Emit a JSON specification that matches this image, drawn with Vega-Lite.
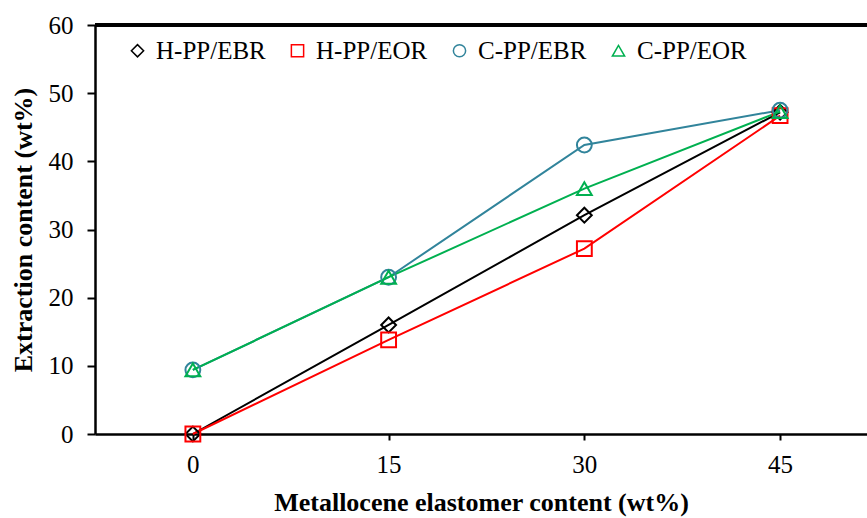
{
  "$schema": "https://vega.github.io/schema/vega-lite/v6.json",
  "width": 772,
  "height": 409,
  "autosize": {"type": "none"},
  "padding": {"left": 95, "top": 25, "right": 0, "bottom": 84},
  "background": "white",
  "config": {
    "view": {"stroke": null},
    "font": "Liberation Serif",
    "axis": {
      "domainColor": "black",
      "domainWidth": 2.5,
      "tickColor": "black",
      "tickWidth": 2,
      "labelColor": "black",
      "titleColor": "black",
      "labelFont": "Liberation Serif",
      "titleFont": "Liberation Serif",
      "labelFontSize": 25,
      "titleFontSize": 26,
      "titleFontWeight": "bold",
      "grid": false
    }
  },
  "data": {
    "values": [
      {"elastomer": 0, "extraction": 0.0, "series": "H-PP/EBR"},
      {"elastomer": 15, "extraction": 16.0, "series": "H-PP/EBR"},
      {"elastomer": 30, "extraction": 32.1, "series": "H-PP/EBR"},
      {"elastomer": 45, "extraction": 47.2, "series": "H-PP/EBR"},
      {"elastomer": 0, "extraction": 0.0, "series": "H-PP/EOR"},
      {"elastomer": 15, "extraction": 13.8, "series": "H-PP/EOR"},
      {"elastomer": 30, "extraction": 27.2, "series": "H-PP/EOR"},
      {"elastomer": 45, "extraction": 46.7, "series": "H-PP/EOR"},
      {"elastomer": 0, "extraction": 9.4, "series": "C-PP/EBR"},
      {"elastomer": 15, "extraction": 23.0, "series": "C-PP/EBR"},
      {"elastomer": 30, "extraction": 42.4, "series": "C-PP/EBR"},
      {"elastomer": 45, "extraction": 47.5, "series": "C-PP/EBR"},
      {"elastomer": 0, "extraction": 9.4, "series": "C-PP/EOR"},
      {"elastomer": 15, "extraction": 23.0, "series": "C-PP/EOR"},
      {"elastomer": 30, "extraction": 36.0, "series": "C-PP/EOR"},
      {"elastomer": 45, "extraction": 47.3, "series": "C-PP/EOR"}
    ]
  },
  "encoding": {
    "x": {
      "field": "elastomer",
      "type": "quantitative",
      "scale": {"domain": [-7.5, 51.66], "nice": false, "zero": false},
      "axis": {
        "values": [0, 15, 30, 45],
        "title": "Metallocene elastomer content (wt%)",
        "tickSize": 6,
        "labelPadding": 12,
        "titlePadding": 12
      }
    },
    "y": {
      "field": "extraction",
      "type": "quantitative",
      "scale": {"domain": [0, 60], "nice": false},
      "axis": {
        "values": [0, 10, 20, 30, 40, 50, 60],
        "title": "Extraction content (wt%)",
        "tickSize": 8,
        "labelPadding": 14,
        "titlePadding": 12
      }
    },
    "color": {
      "field": "series",
      "type": "nominal",
      "scale": {
        "domain": ["H-PP/EBR", "H-PP/EOR", "C-PP/EBR", "C-PP/EOR"],
        "range": ["#000000", "#ff0000", "#31849b", "#00b050"]
      },
      "legend": {
        "orient": "none",
        "legendX": 30,
        "legendY": 13,
        "direction": "horizontal",
        "columns": 4,
        "columnPadding": 19,
        "title": null,
        "labelFontSize": 25,
        "labelFont": "Liberation Serif",
        "labelColor": "black",
        "labelOffset": 6,
        "symbolSize": 150,
        "symbolStrokeWidth": 1.5
      }
    }
  },
  "layer": [
    {"mark": {"type": "line", "strokeWidth": 2}},
    {
      "mark": {"type": "point", "filled": false, "strokeWidth": 2, "size": 220, "opacity": 1},
      "encoding": {
        "shape": {
          "field": "series",
          "type": "nominal",
          "scale": {
            "domain": ["H-PP/EBR", "H-PP/EOR", "C-PP/EBR", "C-PP/EOR"],
            "range": ["diamond", "square", "circle", "triangle-up"]
          },
          "legend": {
            "orient": "none",
            "legendX": 30,
            "legendY": 13,
            "direction": "horizontal",
            "columns": 4,
            "columnPadding": 19,
            "title": null,
            "labelFontSize": 25,
            "labelFont": "Liberation Serif",
            "labelColor": "black",
            "labelOffset": 6,
            "symbolSize": 150,
            "symbolStrokeWidth": 1.5
          }
        }
      }
    },
    {
      "mark": {"type": "rule", "color": "black", "strokeWidth": 2.5},
      "encoding": {
        "y": {"datum": 60},
        "x": null,
        "color": null
      }
    }
  ]
}
